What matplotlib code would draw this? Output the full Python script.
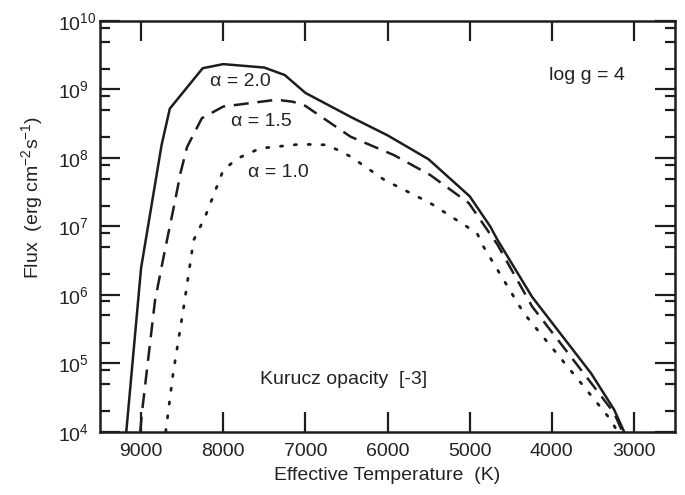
import matplotlib
matplotlib.use("Agg")
import matplotlib.pyplot as plt
import matplotlib.ticker as mticker
import numpy as np

plt.rcParams["font.family"] = ["Liberation Sans", "DejaVu Sans"]
plt.rcParams["mathtext.fontset"] = "custom"
plt.rcParams["mathtext.rm"] = "Liberation Sans"
plt.rcParams["mathtext.it"] = "Liberation Sans:italic"
plt.rcParams["mathtext.default"] = "regular"

# effective temperature (K) and log10 flux
t_a20 = [9180, 9000, 8750, 8650, 8250, 8000, 7500, 7250, 7000, 6450, 6000,
         5500, 5000, 4750, 4660, 4240, 3520, 3240, 3120]
logf_a20 = [4.0, 6.39, 8.19, 8.72, 9.31, 9.37, 9.32, 9.21, 8.95, 8.60, 8.33,
            7.98, 7.44, 7.00, 6.80, 5.97, 4.85, 4.32, 4.0]

t_a15 = [9010, 8990, 8830, 8710, 8585, 8520, 8440, 8260, 8000, 7350, 7150,
         7000, 6450, 5920, 5480, 5010, 4660, 4240, 3520, 3240, 3140]
logf_a15 = [4.0, 4.27, 5.92, 6.65, 7.38, 7.78, 8.16, 8.58, 8.75, 8.85, 8.82,
            8.76, 8.31, 8.04, 7.75, 7.34, 6.73, 5.83, 4.71, 4.27, 4.0]

t_a10 = [8700, 8610, 8480, 8360, 8220, 8100, 8000, 7830, 7550, 7060, 6730,
         6450, 6040, 5480, 4910, 4830, 4340, 3610, 3280, 3200]
logf_a10 = [4.0, 4.85, 5.83, 6.80, 7.14, 7.51, 7.82, 7.99, 8.14, 8.20, 8.19,
            8.02, 7.68, 7.34, 6.90, 6.70, 5.73, 4.66, 4.17, 4.0]

xticks = [9000, 8000, 7000, 6000, 5000, 4000, 3000]
ydecades = [4, 5, 6, 7, 8, 9, 10]

ink = "#1f1c1d"

fig = plt.figure(figsize=(6.85, 4.95), dpi=100)
ax = fig.add_axes([100/685, 1-431.7/495, 575/685, 410.7/495])

ax.plot(t_a20, 10**np.array(logf_a20), color=ink, lw=1.8, ls="-")
ax.plot(t_a15, 10**np.array(logf_a15), color=ink, lw=1.8,
        ls=(0, (6, 3.5)))
ax.plot(t_a10, 10**np.array(logf_a10), color=ink, lw=2.0,
        ls=(0, (0.8, 4.2)), dash_capstyle="round")

ax.set_yscale("log")
ax.set_xlim(9500, 2500)
ax.set_ylim(1e4, 1e10)

ax.set_xticks(xticks)
ax.set_xticklabels([str(t) for t in xticks])
ax.set_yticks([10.0**k for k in ydecades])
ax.set_yticklabels([r"10$^{%d}$" % k for k in ydecades])
ax.yaxis.set_minor_locator(mticker.LogLocator(base=10, subs=(2, 5, 8)))
ax.yaxis.set_minor_formatter(mticker.NullFormatter())
ax.xaxis.set_minor_locator(mticker.NullLocator())

ax.tick_params(which="both", direction="in", top=True, right=True,
               width=1.6, color=ink, labelsize=14, labelcolor="#222222")
ax.tick_params(which="major", length=14.4)
ax.tick_params(which="minor", length=7.2)
ax.tick_params(axis="x", pad=8)
ax.tick_params(axis="y", pad=30)
for lab in ax.get_yticklabels():
    lab.set_horizontalalignment("left")
    lab.set_verticalalignment("center_baseline")

for sp in ax.spines.values():
    sp.set_linewidth(1.8)
    sp.set_color(ink)

ax.set_xlabel("Effective Temperature  (K)", fontsize=14, color="#222222",
              labelpad=5)
ax.set_ylabel(r"Flux  (erg cm$^{-2}$s$^{-1}$)", fontsize=14, color="#222222")
ax.yaxis.set_label_coords(-0.096, 0.57)

fig.text(240/685, 1-81.7/495, "α = 2.0", fontsize=14, color="#222222",
         ha="center", va="center")
fig.text(261.7/685, 1-121.7/495, "α = 1.5", fontsize=14, color="#222222",
         ha="center", va="center")
fig.text(278/685, 1-172.7/495, "α = 1.0", fontsize=14, color="#222222",
         ha="center", va="center")
fig.text(587/685, 1-76/495, "log g = 4", fontsize=14, color="#222222",
         ha="center", va="center")
fig.text(343.7/685, 1-380/495, "Kurucz opacity  [-3]", fontsize=14,
         color="#222222", ha="center", va="center")

fig.savefig("out.png", dpi=100)
